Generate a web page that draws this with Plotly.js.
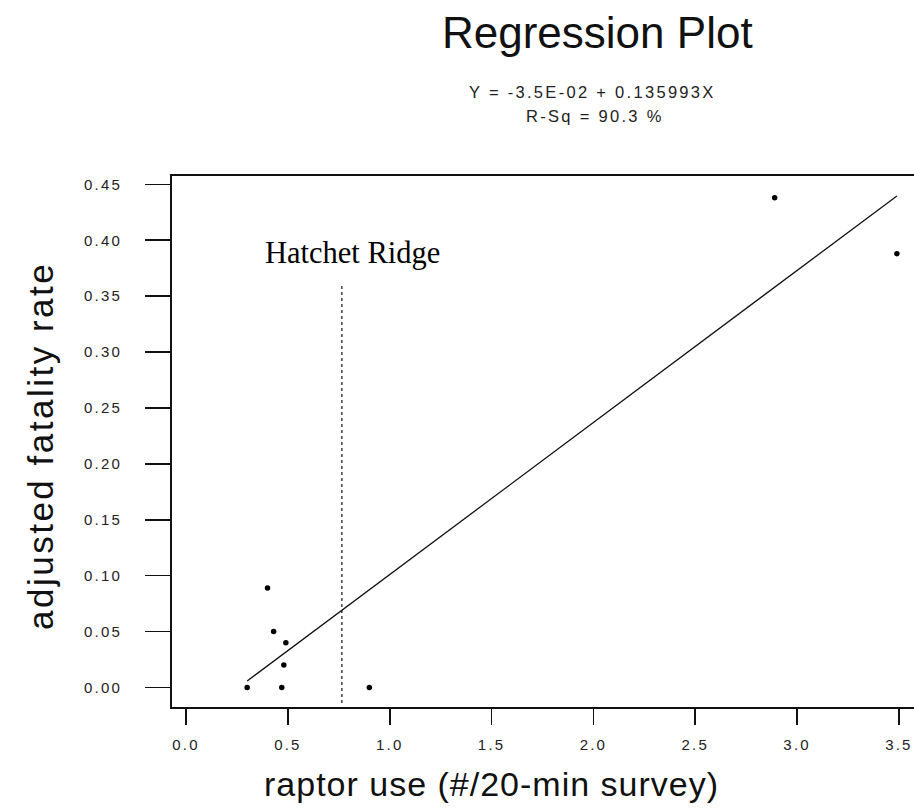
<!DOCTYPE html>
<html>
<head>
<meta charset="utf-8">
<script src="https://cdn.plot.ly/plotly-3.0.1.min.js"></script>
<style>
  html, body { margin: 0; padding: 0; background: #fff; }
  #chart { width: 914px; height: 810px; }
  .xtick text, .ytick text { letter-spacing: 2.2px; }
</style>
</head>
<body>
<div id="chart"></div>
<script>
// ---- data ----
const raptorUse = [0.30, 0.40, 0.43, 0.49, 0.48, 0.47, 0.90, 2.89, 3.49];
const fatalityRate = [0.000, 0.089, 0.050, 0.040, 0.020, 0.000, 0.000, 0.438, 0.388];
const intercept = -0.035;
const slope = 0.135993;
const rSq = 90.3;
const hatchetRidgeUse = 0.765;
const hatchetLineTop = 0.36;
const hatchetLineBottom = -0.014;
const xTickVals = [0, 0.5, 1, 1.5, 2, 2.5, 3, 3.5];
const xTickText = ['0.0', '0.5', '1.0', '1.5', '2.0', '2.5', '3.0', '3.5'];
const yTickVals = [0, 0.05, 0.10, 0.15, 0.20, 0.25, 0.30, 0.35, 0.40, 0.45];
const yTickText = ['0.00', '0.05', '0.10', '0.15', '0.20', '0.25', '0.30', '0.35', '0.40', '0.45'];

// ---- layout helpers (pixel -> paper) ----
const W = 914, H = 810;
const mL = 172, mR = 0, mT = 176, mB = 103;
const pw = W - mL - mR, ph = H - mT - mB;
const px = v => (v - mL) / pw;
const py = v => (H - mB - v) / ph;

const xMin = Math.min(...raptorUse), xMax = Math.max(...raptorUse);
const fitX = [xMin, xMax];
const fitY = fitX.map(x => intercept + slope * x);

const traces = [
  { x: fitX, y: fitY, mode: 'lines', line: { color: '#111', width: 1.3 }, hoverinfo: 'skip' },
  { x: [hatchetRidgeUse, hatchetRidgeUse], y: [hatchetLineBottom, hatchetLineTop], mode: 'lines',
    line: { color: '#111', width: 1.2, dash: 'dot' }, hoverinfo: 'skip' },
  { x: raptorUse, y: fatalityRate, mode: 'markers', marker: { color: '#000', size: 5.5 } }
];

const sans = 'Liberation Sans, Arial, sans-serif';
const layout = {
  width: W, height: H,
  margin: { l: mL, r: mR, t: mT, b: mB, pad: 0 },
  paper_bgcolor: '#fff', plot_bgcolor: '#fff',
  showlegend: false,
  xaxis: {
    range: [-0.069, 3.574], tickvals: xTickVals, ticktext: xTickText,
    ticks: 'outside', ticklen: 16, tickwidth: 1.6, tickcolor: '#111',
    showline: true, linecolor: '#111', linewidth: 2, mirror: true,
    showgrid: false, zeroline: false,
    tickfont: { family: sans, size: 15, color: '#222' }, ticklabelstandoff: 7
  },
  yaxis: {
    range: [-0.0175, 0.4575], tickvals: yTickVals, ticktext: yTickText,
    ticks: 'outside', ticklen: 25, tickwidth: 1.6, tickcolor: '#111',
    showline: true, linecolor: '#111', linewidth: 2, mirror: false,
    showgrid: false, zeroline: false,
    tickfont: { family: sans, size: 15, color: '#222' }, ticklabelstandoff: 20
  },
  annotations: [
    { text: 'Regression Plot', xref: 'paper', yref: 'paper', x: px(597), y: py(32),
      xanchor: 'center', yanchor: 'middle', showarrow: false,
      font: { family: sans, size: 44, color: '#111' } },
    { text: '<span style="letter-spacing:2.3px">Y = ' + intercept.toExponential(1).replace('e-2', 'E-02') + ' + ' + slope + 'X</span>',
      xref: 'paper', yref: 'paper', x: px(592), y: py(92),
      xanchor: 'center', yanchor: 'middle', showarrow: false,
      font: { family: sans, size: 16.5, color: '#222' } },
    { text: '<span style="letter-spacing:2.3px">R-Sq = ' + rSq.toFixed(1) + ' %</span>',
      xref: 'paper', yref: 'paper', x: px(595), y: py(116),
      xanchor: 'center', yanchor: 'middle', showarrow: false,
      font: { family: sans, size: 16.5, color: '#222' } },
    { text: 'Hatchet Ridge', xref: 'paper', yref: 'paper', x: px(263), y: py(253),
      xanchor: 'left', yanchor: 'middle', showarrow: false,
      font: { family: 'Liberation Serif, Times New Roman, serif', size: 30.5, color: '#000' } },
    { text: '<span style="letter-spacing:1px">raptor use (#/20-min survey)</span>',
      xref: 'paper', yref: 'paper', x: px(262), y: py(784),
      xanchor: 'left', yanchor: 'middle', showarrow: false,
      font: { family: sans, size: 34, color: '#111' } },
    { text: '<span style="letter-spacing:2.5px">adjusted fatality rate</span>',
      xref: 'paper', yref: 'paper', x: px(40), y: py(446), textangle: -90,
      xanchor: 'center', yanchor: 'middle', showarrow: false,
      font: { family: sans, size: 35, color: '#111' } }
  ]
};

Plotly.newPlot('chart', traces, layout, { staticPlot: true, displayModeBar: false });
</script>
</body>
</html>
